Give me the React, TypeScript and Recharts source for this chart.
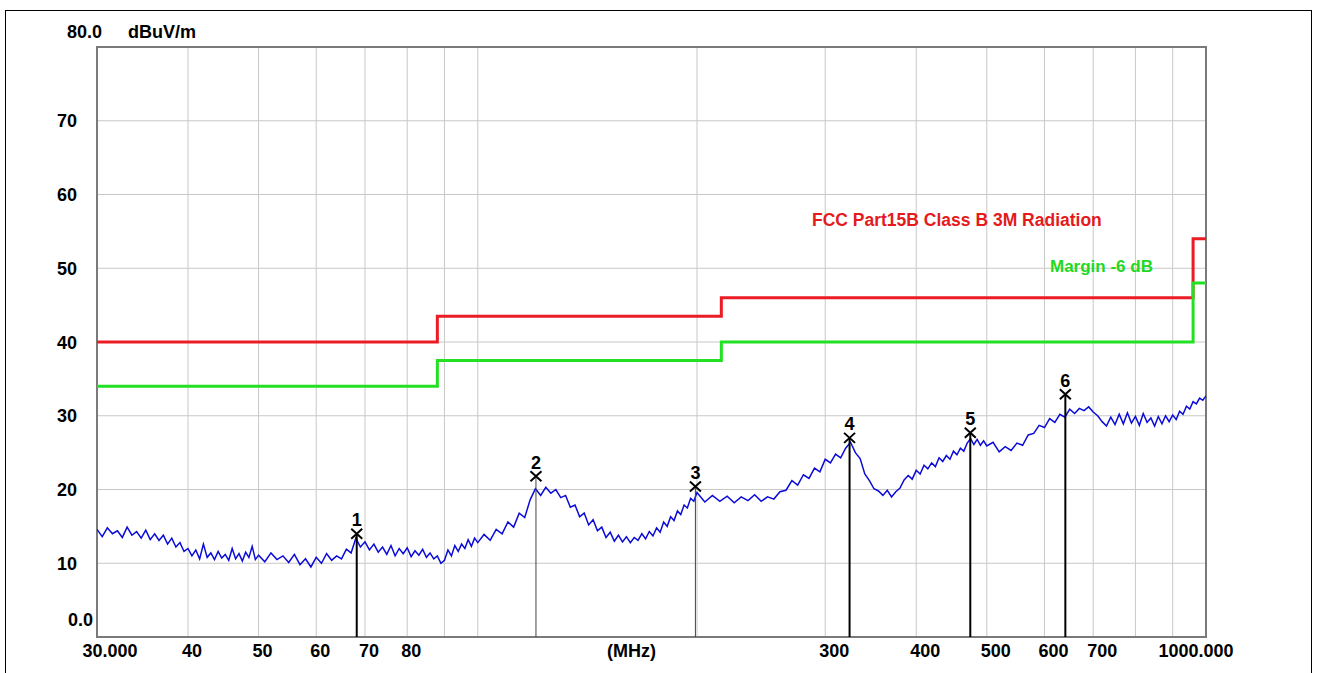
import React from 'react';
import {
  ComposedChart,
  Line,
  XAxis,
  YAxis,
  CartesianGrid,
  Scatter,
  ReferenceLine,
  ReferenceArea,
} from 'recharts';

// ---------- data ----------
const traceFreqsA = [30, 30.5, 31, 31.5, 32, 32.5, 33, 33.5, 34, 34.5, 35, 35.5, 36, 36.5, 37, 37.5, 38, 38.5, 39, 39.5, 40, 40.5, 41, 41.5, 42, 42.5, 43, 43.5, 44, 44.5, 45, 45.5, 46, 46.5, 47, 47.5, 48, 48.5, 49, 49.5, 50];
const traceLevelsA = [14.6, 13.6, 14.8, 14.0, 14.4, 13.5, 14.9, 13.8, 14.3, 13.4, 14.5, 13.2, 14.0, 13.1, 13.8, 12.6, 13.4, 12.2, 12.8, 11.6, 12.0, 11.0, 11.8, 10.6, 12.6, 10.8, 11.4, 10.5, 11.6, 10.7, 11.2, 10.4, 12.0, 10.6, 11.3, 10.3, 11.5, 10.8, 12.3, 10.5, 11.1];

const traceFreqsB = [51, 52, 53, 54, 55, 56, 57, 58, 59, 60, 61, 62, 63, 64, 65, 66, 67, 68, 69, 70, 71, 72, 73, 74, 75, 76, 77, 78, 79, 80, 81, 82, 83, 84, 85, 86, 87, 88, 89, 90, 91, 92, 93, 94, 95, 96, 97, 98, 99, 100];
const traceLevelsB = [10.2, 11.4, 10.5, 11.0, 10.1, 11.2, 9.8, 10.6, 9.5, 10.8, 10.0, 11.3, 10.4, 11.0, 10.6, 11.9, 11.4, 13.4, 12.2, 12.9, 11.8, 12.6, 11.5, 12.2, 11.2, 12.4, 11.0, 12.0, 11.3, 12.1, 10.9, 11.7, 11.1, 11.9, 10.8, 11.4, 10.6, 11.0, 10.0, 10.4, 11.8, 11.0, 12.4, 11.6, 12.6, 12.0, 13.2, 12.3, 13.4, 12.8];

const traceFreqsC = [102, 104, 106, 108, 110, 112, 114, 116, 118, 120, 122, 124, 126, 128, 130, 132, 134, 136, 138, 140, 142, 144, 146, 148, 150, 152, 154, 156, 158, 160, 162, 164, 166, 168, 170, 172, 174, 176, 178, 180, 182, 184, 186, 188, 190, 192, 194, 196, 198, 200];
const traceLevelsC = [13.9, 13.1, 14.6, 14.0, 15.6, 14.9, 16.8, 16.2, 18.6, 20.1, 19.2, 20.3, 19.5, 20.0, 18.9, 19.2, 17.6, 17.9, 16.3, 16.8, 15.2, 15.9, 14.4, 14.9, 13.5, 14.2, 13.0, 13.8, 12.9, 13.6, 12.8, 13.5, 13.1, 14.0, 13.3, 14.3, 13.7, 14.8, 14.2, 15.6, 15.0, 16.3, 15.8, 17.1, 16.6, 17.9, 17.5, 18.8, 18.4, 19.6];

const traceFreqsD = [205, 210, 215, 220, 225, 230, 235, 240, 245, 250, 255, 260, 265, 270, 275, 280, 285, 290, 295, 300, 305, 310, 315, 320, 325, 330, 335, 340, 345, 350, 355, 360, 365, 370, 375, 380, 385, 390, 395, 400, 405, 410, 415, 420, 425, 430, 435, 440, 445, 450, 455, 460, 465, 470, 475, 480, 485, 490, 495, 500];
const traceLevelsD = [18.3, 19.2, 18.4, 19.1, 18.2, 19.0, 18.5, 19.3, 18.4, 19.0, 18.7, 19.7, 19.9, 21.2, 20.6, 22.0, 21.5, 22.9, 22.4, 24.1, 23.6, 24.8, 24.3, 25.6, 26.4, 25.0, 24.2, 22.1, 21.2, 20.1, 19.8, 19.2, 19.9, 19.0, 19.7, 20.2, 21.3, 21.9, 21.4, 22.6, 22.1, 23.3, 22.8, 23.6, 23.1, 24.3, 23.8, 24.6, 24.1, 25.2, 24.7, 25.6, 25.2, 26.3, 26.9, 26.1, 26.8, 26.0, 26.6, 25.9];

const traceFreqsE = [510, 520, 530, 540, 550, 560, 570, 580, 590, 600, 610, 620, 630, 640, 650, 660, 670, 680, 690, 700, 710, 720, 730, 740, 750, 760, 770, 780, 790, 800, 810, 820, 830, 840, 850, 860, 870, 880, 890, 900, 910, 920, 930, 940, 950, 960, 970, 980, 990, 1000];
const traceLevelsE = [26.4, 25.1, 25.8, 25.3, 26.3, 26.0, 27.4, 27.6, 28.7, 28.4, 29.6, 29.1, 30.2, 29.8, 30.9, 30.3, 31.0, 30.7, 31.2, 30.5, 30.0, 29.2, 28.6, 29.8, 28.8, 30.2, 28.9, 30.4, 29.0, 29.9, 28.7, 30.3, 29.1, 29.7, 28.6, 29.9, 28.9, 30.0, 29.2, 30.1, 29.5, 30.6, 30.2, 31.3, 30.9, 31.9, 31.6, 32.4, 32.1, 32.7];

const limitFreqs = [30, 88, 216, 960, 1000];
const fccLimit = [40, 43.5, 46, 54, 54];
const marginLimit = [34, 37.5, 40, 48, 48];

const markerFreqs = [68.2, 120.2, 199, 324, 474.6, 641];
const markerLevels = [14.0, 21.8, 20.4, 27.0, 27.7, 32.9];
const markerLabels = ['1', '2', '3', '4', '5', '6'];

const xTickValues = [30, 40, 50, 60, 70, 80, 90, 100, 200, 300, 400, 500, 600, 700, 800, 900, 1000];
const xTickLabels = ['30.000', '40', '50', '60', '70', '80', '', '', '', '300', '400', '500', '600', '700', '', '', '1000.000'];
const yTickValues = [0, 10, 20, 30, 40, 50, 60, 70, 80];
const yTickLabels = ['0.0', '10', '20', '30', '40', '50', '60', '70', '80.0'];
const yUnit = 'dBuV/m';
const xUnit = '(MHz)';
const limitName = 'FCC Part15B Class B 3M Radiation';
const marginName = 'Margin -6 dB';

// ---------- build ----------
const traceFreqs = [...traceFreqsA, ...traceFreqsB, ...traceFreqsC, ...traceFreqsD, ...traceFreqsE];
const traceLevels = [...traceLevelsA, ...traceLevelsB, ...traceLevelsC, ...traceLevelsD, ...traceLevelsE];
const traceData = traceFreqs.map((f, i) => ({ f, v: traceLevels[i] }));
const fccData = limitFreqs.map((f, i) => ({ f, v: fccLimit[i] }));
const marginData = limitFreqs.map((f, i) => ({ f, v: marginLimit[i] }));
const markerData = markerFreqs.map((f, i) => ({ f, v: markerLevels[i], label: markerLabels[i] }));

const FONT = "'Liberation Sans', Arial, Helvetica, sans-serif";
const markerLineWidth = [2, 1, 1, 2, 2, 2];
const markerLineColor = ['#000', '#444', '#444', '#000', '#000', '#000'];

const XTick = (props: any) => {
  const { x, y, payload } = props;
  const idx = xTickValues.indexOf(payload.value);
  const label = idx >= 0 ? xTickLabels[idx] : '';
  if (!label) return <g />;
  const v = payload.value;
  const dx = v === 30 ? 13 : v === 1000 ? -10 : v < 250 ? 4 : 9;
  return (
    <text x={x + dx} y={y + 20} textAnchor="middle" fontFamily={FONT} fontWeight="bold" fontSize={18} fill="#000">
      {label}
    </text>
  );
};

const YTick = (props: any) => {
  const { x, y, payload } = props;
  const v = payload.value;
  const idx = yTickValues.indexOf(v);
  const label = idx >= 0 ? yTickLabels[idx] : '';
  const common = { fontFamily: FONT, fontWeight: 'bold' as const, fontSize: 18, fill: '#000' };
  if (v === 80) {
    return (
      <g>
        <text x={x + 5} y={y - 9} textAnchor="end" {...common}>{label}</text>
        <text x={x + 31} y={y - 9} textAnchor="start" {...common}>{yUnit}</text>
      </g>
    );
  }
  if (v === 0) {
    return <text x={x - 4} y={y - 11} textAnchor="end" {...common}>{label}</text>;
  }
  return <text x={x - 20} y={y + 6.5} textAnchor="end" {...common}>{label}</text>;
};

const MarkerShape = (props: any) => {
  const { cx, cy, payload } = props;
  if (cx == null || cy == null) return <g />;
  return (
    <g>
      <path
        d={`M${cx - 5.5},${cy - 5} L${cx + 5.5},${cy + 5} M${cx + 5.5},${cy - 5} L${cx - 5.5},${cy + 5}`}
        stroke="#000"
        strokeWidth={2}
        fill="none"
      />
      <text x={cx} y={cy - 7.5} textAnchor="middle" fontFamily={FONT} fontWeight="bold" fontSize={18} fill="#000">
        {payload.label}
      </text>
    </g>
  );
};

export default function App() {
  return (
    <div style={{ position: 'absolute', left: 0, top: 0, width: 1319, height: 673, background: '#fff', overflow: 'hidden' }}>
      <div
        style={{
          position: 'absolute',
          left: 5,
          top: 10,
          width: 1307,
          height: 700,
          border: '1px solid #000',
          boxSizing: 'border-box',
        }}
      />
      <div style={{ position: 'absolute', left: 0, top: 0 }}>
        <ComposedChart width={1319} height={673} margin={{ top: 47, right: 113, bottom: 0, left: 0 }}>
          <XAxis
            type="number"
            dataKey="f"
            scale="log"
            domain={[30, 1000]}
            allowDataOverflow
            ticks={xTickValues}
            interval={0}
            tick={<XTick />}
            tickLine={false}
            axisLine={false}
            tickSize={0}
            tickMargin={0}
            height={36}
          />
          <YAxis
            type="number"
            domain={[0, 80]}
            allowDataOverflow
            ticks={yTickValues}
            interval={0}
            tick={<YTick />}
            tickLine={false}
            axisLine={false}
            tickSize={0}
            tickMargin={0}
            width={97}
          />
          <CartesianGrid stroke="#c8c8c8" strokeWidth={1} />
          <Line
            data={traceData}
            dataKey="v"
            stroke="#0b0bd8"
            strokeWidth={1.5}
            dot={false}
            isAnimationActive={false}
            type="linear"
          />
          {markerData.map((m, i) => (
            <ReferenceLine
              key={'ml' + i}
              segment={[{ x: m.f, y: 0 }, { x: m.f, y: m.v }]}
              stroke={markerLineColor[i]}
              strokeWidth={markerLineWidth[i]}
              ifOverflow="visible"
            />
          ))}
          <Line
            data={fccData}
            dataKey="v"
            stroke="#ec1c24"
            strokeWidth={3}
            dot={false}
            isAnimationActive={false}
            type="stepAfter"
          />
          <Line
            data={marginData}
            dataKey="v"
            stroke="#22e022"
            strokeWidth={3}
            dot={false}
            isAnimationActive={false}
            type="stepAfter"
          />
          <Scatter data={markerData} dataKey="v" shape={<MarkerShape />} isAnimationActive={false} />
          <ReferenceArea
            x1={30}
            x2={1000}
            y1={0}
            y2={80}
            fill="none"
            fillOpacity={0}
            stroke="#7a7a7a"
            strokeWidth={2}
            ifOverflow="visible"
          />
        </ComposedChart>
      </div>
      <div style={{ position: 'absolute', left: 607, top: 642, fontFamily: FONT, fontWeight: 'bold', fontSize: 18, lineHeight: '18px', whiteSpace: 'nowrap' }}>
        {xUnit}
      </div>
      <div style={{ position: 'absolute', left: 812, top: 212, fontFamily: FONT, fontWeight: 'bold', fontSize: 17.5, lineHeight: '17.5px', color: '#e41a1c', whiteSpace: 'nowrap' }}>
        {limitName}
      </div>
      <div style={{ position: 'absolute', left: 1050, top: 258, fontFamily: FONT, fontWeight: 'bold', fontSize: 17, lineHeight: '17px', color: '#22d822', whiteSpace: 'nowrap' }}>
        {marginName}
      </div>
    </div>
  );
}
